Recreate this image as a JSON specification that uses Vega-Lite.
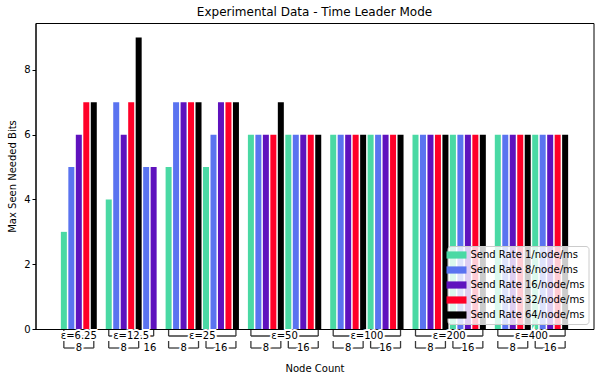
{
  "$schema": "https://vega.github.io/schema/vega-lite/v6.json",
  "width": 558,
  "height": 306,
  "autosize": "none",
  "padding": {"left": 35.5, "top": 23, "right": 5.5, "bottom": 52},
  "title": {"text": "Experimental Data - Time Leader Mode", "fontSize": 12, "fontWeight": "normal", "font": "DejaVu Sans", "color": "black", "offset": 4, "anchor": "middle"},
  "config": {
    "view": {"stroke": "black", "strokeWidth": 1},
    "font": "DejaVu Sans",
    "axis": {"grid": false, "domainColor": "black", "tickColor": "black", "labelColor": "black", "titleColor": "black", "labelFontSize": 10, "titleFontSize": 10, "titleFontWeight": "normal", "labelFont": "DejaVu Sans", "titleFont": "DejaVu Sans"}
  },
  "data": {"values": [
    {"eps": "ε=6.25", "nodes": "8", "rate": "Send Rate 1/node/ms", "pos": 0, "value": 3},
    {"eps": "ε=6.25", "nodes": "8", "rate": "Send Rate 8/node/ms", "pos": 1, "value": 5},
    {"eps": "ε=6.25", "nodes": "8", "rate": "Send Rate 16/node/ms", "pos": 2, "value": 6},
    {"eps": "ε=6.25", "nodes": "8", "rate": "Send Rate 32/node/ms", "pos": 3, "value": 7},
    {"eps": "ε=6.25", "nodes": "8", "rate": "Send Rate 64/node/ms", "pos": 4, "value": 7},
    {"eps": "ε=12.5", "nodes": "8", "rate": "Send Rate 1/node/ms", "pos": 6, "value": 4},
    {"eps": "ε=12.5", "nodes": "8", "rate": "Send Rate 8/node/ms", "pos": 7, "value": 7},
    {"eps": "ε=12.5", "nodes": "8", "rate": "Send Rate 16/node/ms", "pos": 8, "value": 6},
    {"eps": "ε=12.5", "nodes": "8", "rate": "Send Rate 32/node/ms", "pos": 9, "value": 7},
    {"eps": "ε=12.5", "nodes": "8", "rate": "Send Rate 64/node/ms", "pos": 10, "value": 9},
    {"eps": "ε=12.5", "nodes": "16", "rate": "Send Rate 8/node/ms", "pos": 11, "value": 5},
    {"eps": "ε=12.5", "nodes": "16", "rate": "Send Rate 16/node/ms", "pos": 12, "value": 5},
    {"eps": "ε=25", "nodes": "8", "rate": "Send Rate 1/node/ms", "pos": 14, "value": 5},
    {"eps": "ε=25", "nodes": "8", "rate": "Send Rate 8/node/ms", "pos": 15, "value": 7},
    {"eps": "ε=25", "nodes": "8", "rate": "Send Rate 16/node/ms", "pos": 16, "value": 7},
    {"eps": "ε=25", "nodes": "8", "rate": "Send Rate 32/node/ms", "pos": 17, "value": 7},
    {"eps": "ε=25", "nodes": "8", "rate": "Send Rate 64/node/ms", "pos": 18, "value": 7},
    {"eps": "ε=25", "nodes": "16", "rate": "Send Rate 1/node/ms", "pos": 19, "value": 5},
    {"eps": "ε=25", "nodes": "16", "rate": "Send Rate 8/node/ms", "pos": 20, "value": 6},
    {"eps": "ε=25", "nodes": "16", "rate": "Send Rate 16/node/ms", "pos": 21, "value": 7},
    {"eps": "ε=25", "nodes": "16", "rate": "Send Rate 32/node/ms", "pos": 22, "value": 7},
    {"eps": "ε=25", "nodes": "16", "rate": "Send Rate 64/node/ms", "pos": 23, "value": 7},
    {"eps": "ε=50", "nodes": "8", "rate": "Send Rate 1/node/ms", "pos": 25, "value": 6},
    {"eps": "ε=50", "nodes": "8", "rate": "Send Rate 8/node/ms", "pos": 26, "value": 6},
    {"eps": "ε=50", "nodes": "8", "rate": "Send Rate 16/node/ms", "pos": 27, "value": 6},
    {"eps": "ε=50", "nodes": "8", "rate": "Send Rate 32/node/ms", "pos": 28, "value": 6},
    {"eps": "ε=50", "nodes": "8", "rate": "Send Rate 64/node/ms", "pos": 29, "value": 7},
    {"eps": "ε=50", "nodes": "16", "rate": "Send Rate 1/node/ms", "pos": 30, "value": 6},
    {"eps": "ε=50", "nodes": "16", "rate": "Send Rate 8/node/ms", "pos": 31, "value": 6},
    {"eps": "ε=50", "nodes": "16", "rate": "Send Rate 16/node/ms", "pos": 32, "value": 6},
    {"eps": "ε=50", "nodes": "16", "rate": "Send Rate 32/node/ms", "pos": 33, "value": 6},
    {"eps": "ε=50", "nodes": "16", "rate": "Send Rate 64/node/ms", "pos": 34, "value": 6},
    {"eps": "ε=100", "nodes": "8", "rate": "Send Rate 1/node/ms", "pos": 36, "value": 6},
    {"eps": "ε=100", "nodes": "8", "rate": "Send Rate 8/node/ms", "pos": 37, "value": 6},
    {"eps": "ε=100", "nodes": "8", "rate": "Send Rate 16/node/ms", "pos": 38, "value": 6},
    {"eps": "ε=100", "nodes": "8", "rate": "Send Rate 32/node/ms", "pos": 39, "value": 6},
    {"eps": "ε=100", "nodes": "8", "rate": "Send Rate 64/node/ms", "pos": 40, "value": 6},
    {"eps": "ε=100", "nodes": "16", "rate": "Send Rate 1/node/ms", "pos": 41, "value": 6},
    {"eps": "ε=100", "nodes": "16", "rate": "Send Rate 8/node/ms", "pos": 42, "value": 6},
    {"eps": "ε=100", "nodes": "16", "rate": "Send Rate 16/node/ms", "pos": 43, "value": 6},
    {"eps": "ε=100", "nodes": "16", "rate": "Send Rate 32/node/ms", "pos": 44, "value": 6},
    {"eps": "ε=100", "nodes": "16", "rate": "Send Rate 64/node/ms", "pos": 45, "value": 6},
    {"eps": "ε=200", "nodes": "8", "rate": "Send Rate 1/node/ms", "pos": 47, "value": 6},
    {"eps": "ε=200", "nodes": "8", "rate": "Send Rate 8/node/ms", "pos": 48, "value": 6},
    {"eps": "ε=200", "nodes": "8", "rate": "Send Rate 16/node/ms", "pos": 49, "value": 6},
    {"eps": "ε=200", "nodes": "8", "rate": "Send Rate 32/node/ms", "pos": 50, "value": 6},
    {"eps": "ε=200", "nodes": "8", "rate": "Send Rate 64/node/ms", "pos": 51, "value": 6},
    {"eps": "ε=200", "nodes": "16", "rate": "Send Rate 1/node/ms", "pos": 52, "value": 6},
    {"eps": "ε=200", "nodes": "16", "rate": "Send Rate 8/node/ms", "pos": 53, "value": 6},
    {"eps": "ε=200", "nodes": "16", "rate": "Send Rate 16/node/ms", "pos": 54, "value": 6},
    {"eps": "ε=200", "nodes": "16", "rate": "Send Rate 32/node/ms", "pos": 55, "value": 6},
    {"eps": "ε=200", "nodes": "16", "rate": "Send Rate 64/node/ms", "pos": 56, "value": 6},
    {"eps": "ε=400", "nodes": "8", "rate": "Send Rate 1/node/ms", "pos": 58, "value": 6},
    {"eps": "ε=400", "nodes": "8", "rate": "Send Rate 8/node/ms", "pos": 59, "value": 6},
    {"eps": "ε=400", "nodes": "8", "rate": "Send Rate 16/node/ms", "pos": 60, "value": 6},
    {"eps": "ε=400", "nodes": "8", "rate": "Send Rate 32/node/ms", "pos": 61, "value": 6},
    {"eps": "ε=400", "nodes": "8", "rate": "Send Rate 64/node/ms", "pos": 62, "value": 6},
    {"eps": "ε=400", "nodes": "16", "rate": "Send Rate 1/node/ms", "pos": 63, "value": 6},
    {"eps": "ε=400", "nodes": "16", "rate": "Send Rate 8/node/ms", "pos": 64, "value": 6},
    {"eps": "ε=400", "nodes": "16", "rate": "Send Rate 16/node/ms", "pos": 65, "value": 6},
    {"eps": "ε=400", "nodes": "16", "rate": "Send Rate 32/node/ms", "pos": 66, "value": 6},
    {"eps": "ε=400", "nodes": "16", "rate": "Send Rate 64/node/ms", "pos": 67, "value": 6}
  ]},
  "layer": [
    {
      "mark": {"type": "bar", "width": 6},
      "encoding": {
        "x": {"field": "pos", "type": "quantitative", "scale": {"domain": [-3.79, 70.79], "nice": false, "zero": false, "padding": 0}, "title": "Node Count", "axis": {"labels": false, "ticks": false, "titlePadding": 34}},
        "y": {"field": "value", "type": "quantitative", "scale": {"domain": [0, 9.45], "nice": false, "padding": 0}, "title": "Max Seen Needed Bits", "axis": {"values": [0, 2, 4, 6, 8], "tickSize": 3.5, "labelPadding": 2, "titlePadding": 6}},
        "color": {"field": "rate", "type": "nominal", "title": null,
          "scale": {"domain": ["Send Rate 1/node/ms", "Send Rate 8/node/ms", "Send Rate 16/node/ms", "Send Rate 32/node/ms", "Send Rate 64/node/ms"], "range": ["#4ad9a4", "#5a73f0", "#5f12be", "#ff0028", "#000000"]},
          "legend": {"orient": "bottom-right", "offset": 5, "fillColor": "rgba(255,255,255,0.8)", "strokeColor": "#cccccc", "cornerRadius": 3, "padding": 4, "labelFontSize": 10, "labelFont": "DejaVu Sans", "labelColor": "black", "symbolType": "M-2.5,-0.9H2.5V0.9H-2.5Z", "symbolSize": 64, "symbolStrokeWidth": 0, "symbolOpacity": 1, "rowPadding": 5, "labelOffset": 9}
        }
      }
    },
    {
      "mark": {"type": "rule", "color": "#3a3a3a", "strokeWidth": 1.3},
      "encoding": {
        "x": {"aggregate": "min", "field": "pos", "type": "quantitative", "title": "Node Count"},
        "x2": {"aggregate": "max", "field": "pos"},
        "y": {"datum": -0.216},
        "detail": {"field": "eps"}
      }
    },
    {
      "mark": {"type": "rule", "color": "#3a3a3a", "strokeWidth": 1.3},
      "encoding": {
        "x": {"aggregate": "min", "field": "pos", "type": "quantitative", "title": "Node Count"},
        "y": {"datum": -0.03},
        "y2": {"datum": -0.216},
        "detail": {"field": "eps"}
      }
    },
    {
      "mark": {"type": "rule", "color": "#3a3a3a", "strokeWidth": 1.3},
      "encoding": {
        "x": {"aggregate": "max", "field": "pos", "type": "quantitative", "title": "Node Count"},
        "y": {"datum": -0.03},
        "y2": {"datum": -0.216},
        "detail": {"field": "eps"}
      }
    },
    {
      "mark": {"type": "text", "fontSize": 10, "font": "DejaVu Sans", "stroke": "white", "strokeWidth": 4, "fill": "white", "baseline": "middle"},
      "encoding": {
        "x": {"aggregate": "mean", "field": "pos", "type": "quantitative", "title": "Node Count"},
        "y": {"datum": -0.216},
        "text": {"field": "eps"}
      }
    },
    {
      "mark": {"type": "rule", "color": "#3a3a3a", "strokeWidth": 1.3},
      "encoding": {
        "x": {"aggregate": "min", "field": "pos", "type": "quantitative", "title": "Node Count"},
        "x2": {"aggregate": "max", "field": "pos"},
        "y": {"datum": -0.587},
        "detail": [{"field": "eps"}, {"field": "nodes"}]
      }
    },
    {
      "mark": {"type": "rule", "color": "#3a3a3a", "strokeWidth": 1.3},
      "encoding": {
        "x": {"aggregate": "min", "field": "pos", "type": "quantitative", "title": "Node Count"},
        "y": {"datum": -0.37},
        "y2": {"datum": -0.587},
        "detail": [{"field": "eps"}, {"field": "nodes"}]
      }
    },
    {
      "mark": {"type": "rule", "color": "#3a3a3a", "strokeWidth": 1.3},
      "encoding": {
        "x": {"aggregate": "max", "field": "pos", "type": "quantitative", "title": "Node Count"},
        "y": {"datum": -0.37},
        "y2": {"datum": -0.587},
        "detail": [{"field": "eps"}, {"field": "nodes"}]
      }
    },
    {
      "mark": {"type": "text", "fontSize": 10, "font": "DejaVu Sans", "stroke": "white", "strokeWidth": 4, "fill": "white", "baseline": "middle"},
      "encoding": {
        "x": {"aggregate": "mean", "field": "pos", "type": "quantitative", "title": "Node Count"},
        "y": {"datum": -0.587},
        "text": {"field": "nodes"},
        "detail": {"field": "eps"}
      }
    },
    {
      "mark": {"type": "text", "fontSize": 10, "font": "DejaVu Sans", "color": "black", "baseline": "middle"},
      "encoding": {
        "x": {"aggregate": "mean", "field": "pos", "type": "quantitative", "title": "Node Count"},
        "y": {"datum": -0.216},
        "text": {"field": "eps"}
      }
    },
    {
      "mark": {"type": "text", "fontSize": 10, "font": "DejaVu Sans", "color": "black", "baseline": "middle"},
      "encoding": {
        "x": {"aggregate": "mean", "field": "pos", "type": "quantitative", "title": "Node Count"},
        "y": {"datum": -0.587},
        "text": {"field": "nodes"},
        "detail": {"field": "eps"}
      }
    }
  ]
}
